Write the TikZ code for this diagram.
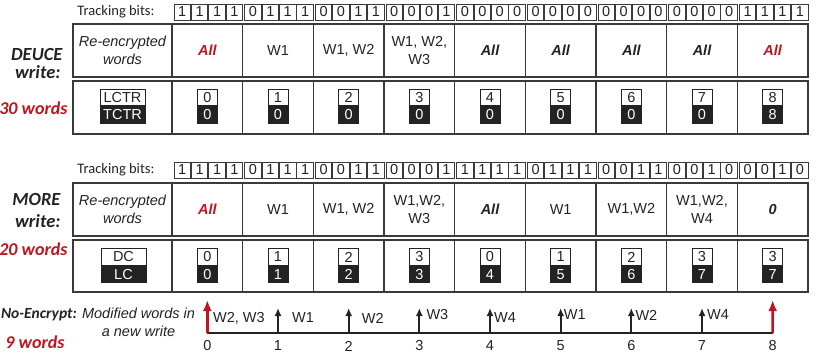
\documentclass[tikz,border=0pt]{standalone}
\usepackage{fontspec}
\setmainfont{Liberation Sans}
\newfontfamily\calibfont{Carlito}
\usepackage{xcolor}
\usepackage{tikz}
\usetikzlibrary{arrows.meta,positioning}
\definecolor{alert}{HTML}{C0141E}
\definecolor{ink}{HTML}{232323}
\definecolor{rule}{HTML}{3A3A3A}
\newcommand{\AllRed}{\textcolor{alert}{\bfseries\itshape All}}
\newcommand{\AllBlk}{{\bfseries\itshape All}}

\begin{document}
\begin{tikzpicture}[
  x=1pt, y=-1pt,
  font=\fontsize{14.5}{17.5}\selectfont,
  text=ink,
  cell/.style={draw=rule, line width=1.5pt, minimum width=70.67pt,
               minimum height=53pt, inner sep=0pt, align=center},
  head/.style={cell, minimum width=99pt, font=\fontsize{14.5}{17.5}\selectfont\itshape},
  bit/.style={draw=rule, line width=0.9pt, minimum width=16.5pt,
              minimum height=16pt, inner sep=0pt, font=\fontsize{14.5}{14}\selectfont},
  ctrtop/.style={draw=ink, line width=0.9pt, fill=white, minimum width=20pt,
                 minimum height=16.5pt, inner sep=0pt, font=\fontsize{14.5}{14}\selectfont},
  ctrbot/.style={ctrtop, fill=ink, text=white},
  side/.style={anchor=east, font=\calibfont\fontsize{18.5}{20}\selectfont\bfseries\itshape},
  count/.style={side, text=alert, font=\calibfont\fontsize{18}{20}\selectfont\bfseries\itshape},
  trk/.style={anchor=east, font=\calibfont\fontsize{14.5}{16}\selectfont},
  tick/.style={-{Latex[length=8pt,width=7pt]}, line width=1.8pt, draw=ink},
  redtick/.style={-{Latex[length=11pt,width=9pt]}, line width=2.6pt, draw=alert}
]
  \useasboundingbox (0,0) rectangle (817,356);

  % DEUCE
  \node[trk] (dtrk) at (158,12) {Tracking bits:};
  \foreach \i/\a/\b/\c/\d in {0/1/1/1/1, 1/0/1/1/1, 2/0/0/1/1, 3/0/0/0/1, 4/0/0/0/0,
                              5/0/0/0/0, 6/0/0/0/0, 7/0/0/0/0, 8/1/1/1/1} {
    \node[bit] (db\i a) at ({182.25+70.67*\i},12) {\a};
    \node[bit, right=0pt of db\i a] (db\i b) {\b};
    \node[bit, right=0pt of db\i b] (db\i c) {\c};
    \node[bit, right=0pt of db\i c] (db\i d) {\d};
  }
  \node[head] (dhead) at (122.5,50.5) {Re-encrypted\\words};
  \node[cell, minimum width=99pt] (dctr) at (122.5,107.5) {};
  \foreach \i/\txt in {0/\AllRed, 1/W1, 2/{W1, W2}, 3/{W1, W2,\\W3}, 4/\AllBlk,
                       5/\AllBlk, 6/\AllBlk, 7/\AllBlk, 8/\AllRed} {
    \node[cell] (dw\i) at ({207.33+70.67*\i},50.5) {\txt};
    \node[cell] (dc\i) at ({207.33+70.67*\i},107.5) {};
  }
  \node[ctrtop, minimum width=45pt] (dlctr) at (122.5,97.5) {LCTR};
  \node[ctrbot, minimum width=45pt, below=0pt of dlctr] (dtctr) {TCTR};
  \foreach \i/\t/\b in {0/0/0, 1/1/0, 2/2/0, 3/3/0, 4/4/0, 5/5/0, 6/6/0, 7/7/0, 8/8/8} {
    \node[ctrtop] (dtop\i) at ({207.33+70.67*\i},97.5) {\t};
    \node[ctrbot, below=0pt of dtop\i] (dbot\i) {\b};
  }
  \node[side] (dname) at (66,55) {DEUCE};
  \node[side] (dwrite) at (64,72) {write:};
  \node[count] (dcount) at (71,108) {30 words};

  % MORE
  \node[trk] (mtrk) at (158,170) {Tracking bits:};
  \foreach \i/\a/\b/\c/\d in {0/1/1/1/1, 1/0/1/1/1, 2/0/0/1/1, 3/0/0/0/1, 4/1/1/1/1,
                              5/0/1/1/1, 6/0/0/1/1, 7/0/0/1/0, 8/0/0/1/0} {
    \node[bit] (mb\i a) at ({182.25+70.67*\i},170) {\a};
    \node[bit, right=0pt of mb\i a] (mb\i b) {\b};
    \node[bit, right=0pt of mb\i b] (mb\i c) {\c};
    \node[bit, right=0pt of mb\i c] (mb\i d) {\d};
  }
  \node[head] (mhead) at (122.5,209.5) {Re-encrypted\\words};
  \node[cell, minimum width=99pt, minimum height=52pt] (mctr) at (122.5,266) {};
  \foreach \i/\txt in {0/\AllRed, 1/W1, 2/{W1, W2}, 3/{W1,W2,\\W3}, 4/\AllBlk,
                       5/W1, 6/{W1,W2}, 7/{W1,W2,\\W4}, 8/{\bfseries\itshape 0}} {
    \node[cell] (mw\i) at ({207.33+70.67*\i},209.5) {\txt};
    \node[cell, minimum height=52pt] (mc\i) at ({207.33+70.67*\i},266) {};
  }
  \node[ctrtop, minimum width=45pt] (mdc) at (123.5,257) {DC};
  \node[ctrbot, minimum width=45pt, below=0pt of mdc] (mlc) {LC};
  \foreach \i/\t/\b in {0/0/0, 1/1/1, 2/2/2, 3/3/3, 4/0/4, 5/1/5, 6/2/6, 7/3/7, 8/3/7} {
    \node[ctrtop] (mtop\i) at ({207.33+70.67*\i},257) {\t};
    \node[ctrbot, below=0pt of mtop\i] (mbot\i) {\b};
  }
  \node[side] (mname) at (64,199) {MORE};
  \node[side] (mwrite) at (64,221) {write:};
  \node[count] (mcount) at (71,249) {20 words};

  % No-Encrypt
  \node[side, inner sep=1pt, font=\calibfont\fontsize{15.5}{18}\selectfont\bfseries\itshape] (nname) at (78,315) {No-Encrypt:};
  \node[count, anchor=center] (ncount) at (35,342) {9 words};
  \node[align=center, font=\fontsize{14.5}{18}\selectfont\itshape] (nmod) at (138.5,322) {Modified words in\\a new write};
  \foreach \i in {0,...,8} {
    \coordinate (t\i) at ({207.33+70.67*\i},333);
    \node (n\i) at ({207.33+70.67*\i},346) {\i};
  }
  \draw[line width=2.6pt, draw=ink] (t0) -- (t8);
  \coordinate (a0) at (207.33,300);
  \coordinate (a8) at (772.67,300);
  \draw[redtick] (t0) -- (a0);
  \draw[redtick] (t8) -- (a8);
  \foreach \i/\w/\dx/\dy in {1/W1/14/318, 2/W2/13/318, 3/W3/7/315, 4/W4/4/318,
                             5/W1/3/315, 6/W2/4/315, 7/W4/5/315} {
    \coordinate (a\i) at ({207.33+70.67*\i},308);
    \draw[tick] (t\i) -- (a\i);
    \node[anchor=west, inner sep=0pt] (w\i) at ({207.33+70.67*\i+\dx},\dy) {\w};
  }
  \node[anchor=west, inner sep=0pt] (w0) at (213,318) {W2, W3};
\end{tikzpicture}
\end{document}
